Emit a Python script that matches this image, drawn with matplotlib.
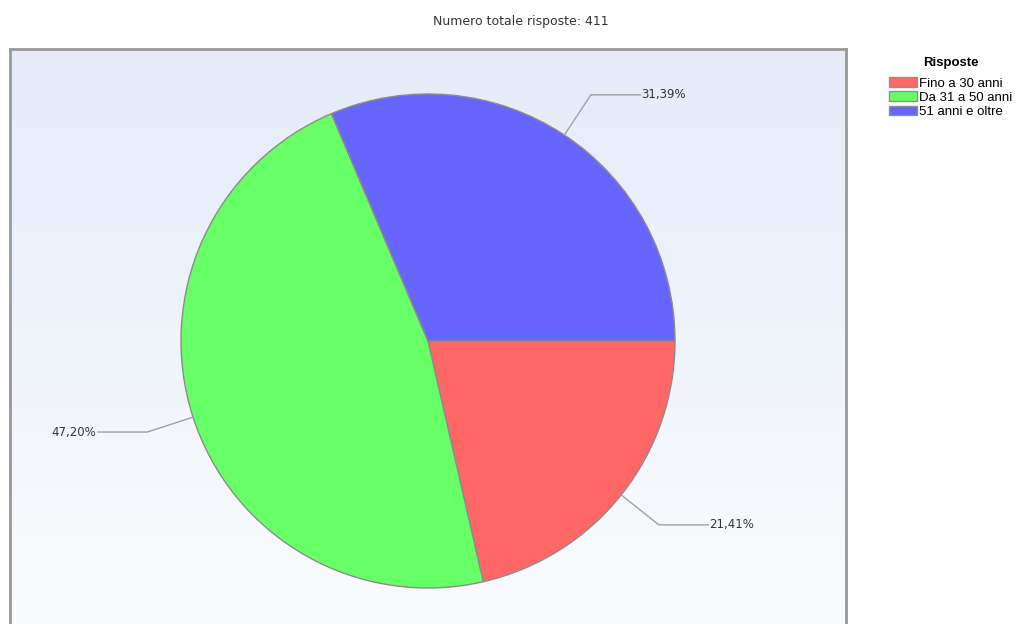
import matplotlib.pyplot as plt
import numpy as np
from matplotlib.patches import Patch
from matplotlib.colors import LinearSegmentedColormap

title = 'Numero totale risposte: 411'
labels = ['Fino a 30 anni', 'Da 31 a 50 anni', '51 anni e oltre']
values = [21.41, 47.20, 31.39]
pct_labels = ['21,41%', '47,20%', '31,39%']
colors = ['#FF6666', '#66FF66', '#6666FF']

W, H = 1017, 624
fig = plt.figure(figsize=(W / 100, H / 100), dpi=100)

# plot area with light blue -> white gradient
bg = fig.add_axes([10 / W, -0.02, 836 / W, (H - 49) / H + 0.02])
cmap = LinearSegmentedColormap.from_list('bg', ['#E4ECF8', '#FBFCFE'])
grad = np.linspace(0, 1, 256).reshape(-1, 1)
bg.imshow(grad, cmap=cmap, aspect='auto', extent=[0, 1, 0, 1])
bg.set_xticks([])
bg.set_yticks([])
for s in bg.spines.values():
    s.set_color('#999999')
    s.set_linewidth(2)

# pie, centre (428, 341) px, radius ~247 px
R = 247
S = 640
ax = fig.add_axes([(428 - S / 2) / W, (H - 341 - S / 2) / H, S / W, S / H])
ax.set_facecolor('none')
wedges, _ = ax.pie(values, colors=colors, startangle=0, counterclock=False,
                   radius=1, wedgeprops=dict(edgecolor='#8C8C8C', linewidth=1))
lim = S / 2 / R
ax.set_xlim(-lim, lim)
ax.set_ylim(-lim, lim)
ax.set_aspect('equal')
ax.axis('off')

for w, txt in zip(wedges, pct_labels):
    ang = np.deg2rad((w.theta1 + w.theta2) / 2)
    x0, y0 = np.cos(ang), np.sin(ang)
    x1, y1 = 1.195 * x0, 1.195 * y0
    d = 1 if x0 >= 0 else -1
    x2 = x1 + d * 0.2
    ax.plot([x0, x1, x2], [y0, y1, y1], color='#A0A0A0', lw=1, clip_on=False)
    ax.text(x2 + d * 0.005, y1, txt, ha='left' if d > 0 else 'right',
            va='center', fontsize=8.5, color='#333333', family='DejaVu Sans')

fig.text(521 / W, 1 - 22 / H, title, ha='center', va='center',
         fontsize=9, color='#333333')

handles = [Patch(facecolor=c, edgecolor='#909090', label=l)
           for c, l in zip(colors, labels)]
leg = fig.legend(handles=handles, title='Risposte', loc='upper left',
                 bbox_to_anchor=(889 / W, 1 - 57 / H), frameon=False,
                 prop={'family': 'Liberation Sans', 'size': 9.5},
                 title_fontproperties={'family': 'Liberation Sans', 'weight': 'bold', 'size': 9.5},
                 handlelength=2.1, handleheight=0.75, handletextpad=0.2,
                 labelspacing=0.13, borderaxespad=0, borderpad=0)
leg._legend_box.sep = 6

fig.savefig('out.png', dpi=100)
